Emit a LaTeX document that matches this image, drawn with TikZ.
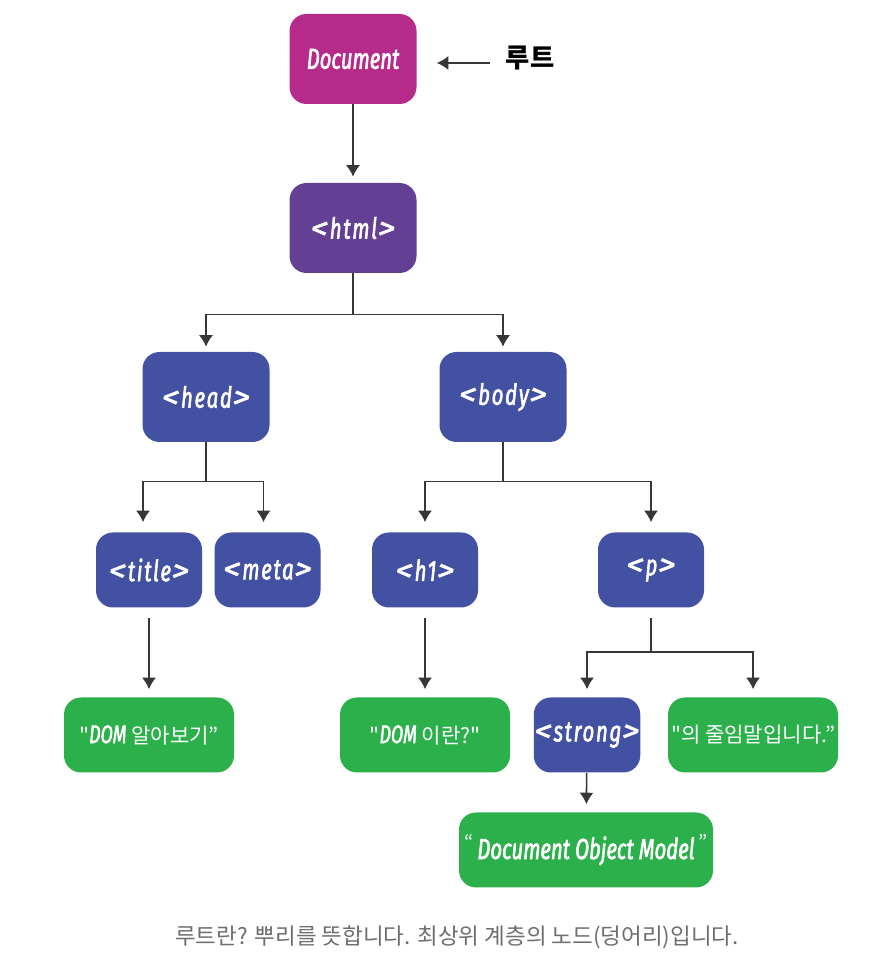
\documentclass[tikz,border=0pt]{standalone}
\usepackage{fontspec}
\usepackage{xcolor}
\usepackage{graphicx}
\usepackage{tikz}
\usetikzlibrary{arrows.meta}
\newfontfamily\tagfont[FakeStretch=0.7, FakeBold=2]{Fira Sans}
\newfontfamily\spacedfont[FakeStretch=0.7, FakeBold=2, LetterSpace=6]{Fira Sans}
\newfontfamily\bracketfont[FakeBold=2]{Fira Sans}
\newfontfamily\kofont{Noto Sans CJK KR}
\definecolor{domroot}{RGB}{182, 42, 138}
\definecolor{domhtml}{RGB}{99, 64, 148}
\definecolor{domtag}{RGB}{67, 81, 163}
\definecolor{domtext}{RGB}{44, 176, 75}
\definecolor{linegray}{RGB}{55, 55, 55}
\definecolor{capgray}{RGB}{110, 110, 110}
\newcommand{\tagname}[1]{\scalebox{1.2}[1.05]{\bracketfont<}\kern1pt{\spacedfont\itshape #1}\kern0.5pt\scalebox{1.2}[1.05]{\bracketfont>}}
\newcommand{\domword}[1]{{\tagfont\itshape\fontsize{14.5}{16}\selectfont #1}}

\begin{document}
\begin{tikzpicture}[
  bigbox/.style={fill=domtag, rounded corners=0.34cm, minimum width=2.54cm, minimum height=1.8cm, text=white, font=\tagfont\itshape\fontsize{16.5}{18}\selectfont},
  smallbox/.style={bigbox, minimum width=2.12cm, minimum height=1.5cm, inner xsep=0.5pt},
  leafbox/.style={smallbox, fill=domtext, minimum width=3.4cm, font=\kofont\fontsize{12}{14}\selectfont},
  link/.style={draw=linegray, line width=0.9pt, -{Latex[length=6.5pt,width=8pt]}, shorten >=0.18cm}
]
\useasboundingbox (0,0) rectangle (17.48,19.2);

% Tree nodes
\node[bigbox, fill=domroot] (doc) at (7.06,18.02) {Document};
\node[font=\kofont\bfseries\fontsize{15}{17}\selectfont] (root) at (10.6,18.04) {루트};
\node[bigbox, fill=domhtml] (html) at (7.06,14.64) {\tagname{html}};
\node[bigbox] (head) at (4.12,11.26) {\tagname{head}};
\node[bigbox] (body) at (10.06,11.26) {\tagname{body}};
\node[smallbox] (title) at (2.98,7.8) {\tagname{title}};
\node[smallbox] (meta) at (5.35,7.8) {\tagname{meta}};
\node[smallbox] (hone) at (8.5,7.8) {\tagname{h1}};
\node[smallbox] (para) at (13.02,7.8) {\tagname{p}};
\node[leafbox] (titletext) at (2.98,4.5) {"\domword{DOM} 알아보기”};
\node[leafbox] (honetext) at (8.5,4.5) {"\domword{DOM} 이란?"};
\node[smallbox] (strong) at (11.74,4.5) {\tagname{strong}};
\node[leafbox] (paratext) at (15.06,4.5) {"의 줄임말입니다.”};
\node[leafbox, minimum width=5.08cm, font=\tagfont\itshape\fontsize{16.5}{18}\selectfont] (strongtext) at (11.72,2.2) {\raisebox{0.6ex}{\kofont\fontsize{11}{12}\selectfont “}\kern2pt Document Object Model\kern2pt\raisebox{0.6ex}{\kofont\fontsize{11}{12}\selectfont ”}};

% Connectors
\draw[link, shorten <=0.2cm, shorten >=0.4cm] ([yshift=-0.1cm]root.west) -- ([yshift=-0.1cm]root.west -| doc.east);
\draw[link, shorten >=0.12cm] (doc) -- (html);
\draw[link, shorten >=0.1cm] (html.south) -- ++(0,-0.82) -| (head.north);
\draw[link, shorten >=0.1cm] (html.south) -- ++(0,-0.82) -| (body.north);
\draw[link, shorten >=0.2cm] (head.south) -- ++(0,-0.78) -| ([xshift=-0.12cm]title.north);
\draw[link, shorten >=0.2cm] (head.south) -- ++(0,-0.78) -| ([xshift=-0.08cm]meta.north);
\draw[link, shorten >=0.2cm] (body.south) -- ++(0,-0.78) -| (hone.north);
\draw[link, shorten >=0.2cm] (body.south) -- ++(0,-0.78) -| (para.north);
\draw[link, shorten <=0.2cm, shorten >=0.16cm] (title) -- (titletext);
\draw[link, shorten <=0.2cm, shorten >=0.16cm] (hone) -- (honetext);
\draw[link, shorten <=0.2cm, shorten >=0.16cm] (para.south) -- ++(0,-0.88) -| (strong.north);
\draw[link, shorten <=0.2cm, shorten >=0.16cm] (para.south) -- ++(0,-0.88) -| (paratext.north);
\draw[link, shorten >=0.16cm] (strong) -- (strongtext);

% Caption
\node[font=\kofont\fontsize{12.8}{15}\selectfont, text=capgray] (caption) at (9.14,0.46) {루트란? 뿌리를 뜻합니다. 최상위 계층의 노드(덩어리)입니다.};
\end{tikzpicture}
\end{document}
